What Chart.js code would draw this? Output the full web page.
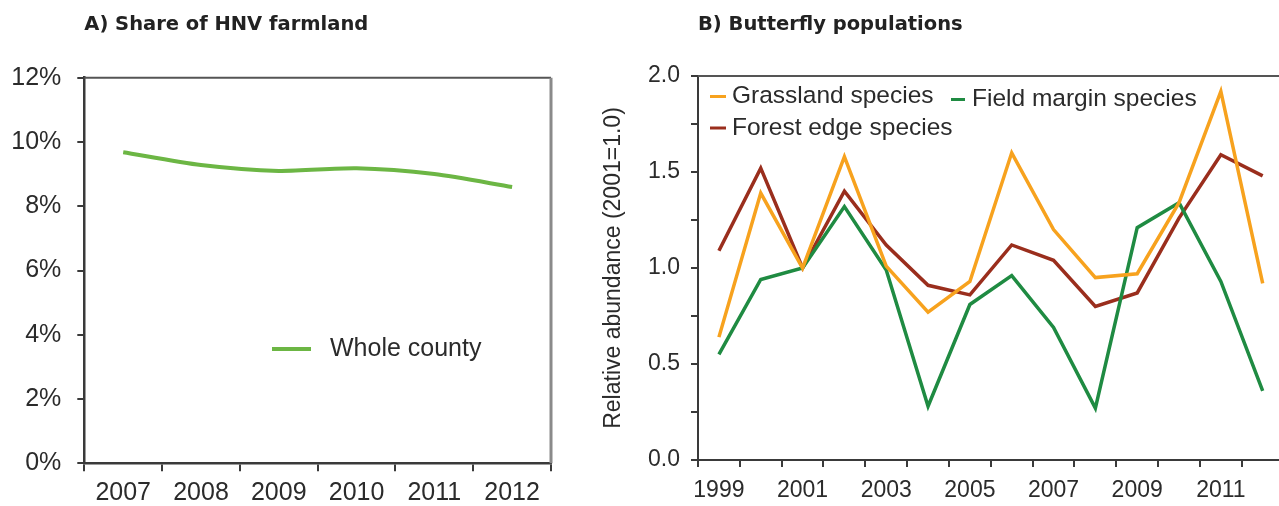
<!DOCTYPE html>
<html>
<head>
<meta charset="utf-8">
<script src="https://cdn.jsdelivr.net/npm/chart.js@4.4.1/dist/chart.umd.min.js"></script>
<style>
  html, body { margin: 0; padding: 0; background: #fff; overflow: hidden; width: 1279px; height: 506px; }
  #wrapA { position: absolute; left: 0; top: 0; width: 580px; height: 506px; }
  #wrapB { position: absolute; left: 590px; top: 0; width: 700px; height: 506px; }
  canvas { display: block; }
</style>
</head>
<body>
<div id="wrapA"><canvas id="chartA" width="580" height="506"></canvas></div>
<div id="wrapB"><canvas id="chartB" width="700" height="506"></canvas></div>
<script>
// ---------- Data: A) Share of HNV farmland ----------
const hnvYears = ['2007', '2008', '2009', '2010', '2011', '2012'];
const hnvShare = [9.68, 9.28, 9.10, 9.18, 9.00, 8.60];   // percent, whole county
const hnvTickValues = [0, 2, 4, 6, 8, 10, 12];

// ---------- Data: B) Butterfly populations ----------
const butterflyYears = ['1999', '2000', '2001', '2002', '2003', '2004', '2005',
                        '2006', '2007', '2008', '2009', '2010', '2011', '2012'];
const grasslandSpecies   = [0.64, 1.39, 1.00, 1.58, 1.01, 0.77, 0.93, 1.60, 1.20, 0.95, 0.97, 1.34, 1.92, 0.92];
const fieldMarginSpecies = [0.55, 0.94, 1.00, 1.32, 0.99, 0.28, 0.81, 0.96, 0.69, 0.27, 1.21, 1.34, 0.93, 0.36];
const forestEdgeSpecies  = [1.09, 1.52, 1.00, 1.40, 1.12, 0.91, 0.86, 1.12, 1.04, 0.80, 0.87, 1.26, 1.59, 1.48];
const butterflyTickLabels = ['1999', '2001', '2003', '2005', '2007', '2009', '2011'];
const abundanceTickLabels = [0, 0.5, 1.0, 1.5, 2.0];

// ---------- Shared styling ----------
const FONT = "'Liberation Sans', Arial, sans-serif";
const TEXT = '#2b2b2b';
const AXIS = '#3a3a3a';
Chart.defaults.font.family = FONT;
Chart.defaults.color = TEXT;

// draws the top / right frame lines of the plot box
const framePlugin = {
  id: 'frame',
  afterDraw(chart, args, opts) {
    const {ctx, chartArea: a} = chart;
    ctx.save();
    if (opts.top) {
      ctx.strokeStyle = opts.top.color; ctx.lineWidth = opts.top.width;
      ctx.beginPath(); ctx.moveTo(a.left, a.top); ctx.lineTo(a.right, a.top); ctx.stroke();
    }
    if (opts.right) {
      ctx.strokeStyle = opts.right.color; ctx.lineWidth = opts.right.width;
      ctx.beginPath(); ctx.moveTo(a.right, a.top); ctx.lineTo(a.right, a.bottom); ctx.stroke();
    }
    ctx.restore();
  }
};

// legend drawn inside the plot area from the datasets' own labels and colours
const inlineLegendPlugin = {
  id: 'inlineLegend',
  afterDatasetsDraw(chart, args, opts) {
    if (!opts.items) return;
    const ctx = chart.ctx;
    ctx.save();
    ctx.font = opts.font;
    ctx.textBaseline = 'middle';
    ctx.textAlign = 'left';
    for (const it of opts.items) {
      const ds = chart.data.datasets[it.datasetIndex];
      ctx.strokeStyle = ds.borderColor;
      ctx.lineWidth = it.lineWidth;
      ctx.lineCap = 'butt';
      ctx.beginPath();
      ctx.moveTo(it.x, it.y);
      ctx.lineTo(it.x + it.len, it.y);
      ctx.stroke();
      ctx.fillStyle = opts.color;
      ctx.fillText(ds.label, it.x + it.len + it.gap, it.ty !== undefined ? it.ty : it.y);
    }
    ctx.restore();
  }
};

// ---------- Chart A ----------
new Chart(document.getElementById('chartA'), {
  type: 'line',
  data: {
    labels: hnvYears,
    datasets: [{
      label: 'Whole county',
      data: hnvShare,
      borderColor: '#6cb644',
      borderWidth: 4,
      pointRadius: 0,
      tension: 0.25,
      fill: false
    }]
  },
  options: {
    responsive: false,
    animation: false,
    layout: { padding: { left: 0, right: 29, top: 0, bottom: 0 } },
    plugins: {
      legend: { display: false },
      tooltip: { enabled: false },
      title: {
        display: true,
        text: 'A) Share of HNV farmland',
        align: 'start',
        fullSize: false,
        color: '#222',
        font: { family: "'DejaVu Sans', Verdana, sans-serif", weight: 'bold', size: 19.5 },
        padding: { top: 13.3, bottom: 41 }
      },
      frame: { top: { color: '#555', width: 2 }, right: { color: '#8a8a8a', width: 3 } },
      inlineLegend: {
        font: '25px ' + FONT,
        color: TEXT,
        items: [{ datasetIndex: 0, x: 272, y: 349, len: 39, gap: 19, lineWidth: 4 }]
      }
    },
    scales: {
      x: {
        type: 'category',
        offset: true,
        grid: { offset: true, drawOnChartArea: false, drawTicks: true, tickLength: 8, color: AXIS, lineWidth: 2 },
        border: { display: true, color: AXIS, width: 2.5 },
        ticks: { autoSkip: false, maxRotation: 0, minRotation: 0, padding: 7, color: TEXT, font: { size: 25 } },
        afterFit: (s) => { s.height = 42.7; }
      },
      y: {
        min: hnvTickValues[0],
        max: hnvTickValues[hnvTickValues.length - 1],
        afterBuildTicks: (s) => { s.ticks = hnvTickValues.map(v => ({ value: v })); },
        grid: { drawOnChartArea: false, drawTicks: true, tickLength: 7, color: AXIS, lineWidth: 2 },
        border: { display: true, color: AXIS, width: 2.5 },
        ticks: { padding: 16, color: TEXT, font: { size: 25 }, callback: (v) => v + '%' },
        afterFit: (s) => { s.width = 84.3; }
      }
    }
  },
  plugins: [framePlugin, inlineLegendPlugin]
});

// ---------- Chart B ----------
new Chart(document.getElementById('chartB'), {
  type: 'line',
  data: {
    labels: butterflyYears,
    datasets: [
      { label: 'Grassland species', data: grasslandSpecies, borderColor: '#f7a21e', borderWidth: 3.5, pointRadius: 0, tension: 0, fill: false },
      { label: 'Field margin species', data: fieldMarginSpecies, borderColor: '#1f8b42', borderWidth: 3.5, pointRadius: 0, tension: 0, fill: false },
      { label: 'Forest edge species', data: forestEdgeSpecies, borderColor: '#9a2e1d', borderWidth: 3.5, pointRadius: 0, tension: 0, fill: false }
    ]
  },
  options: {
    responsive: false,
    animation: false,
    layout: { padding: { left: 5, right: 6.4, top: 0, bottom: 0 } },
    plugins: {
      legend: { display: false },
      tooltip: { enabled: false },
      title: {
        display: true,
        text: 'B) Butterfly populations',
        align: 'start',
        fullSize: false,
        color: '#222',
        font: { family: "'DejaVu Sans', Verdana, sans-serif", weight: 'bold', size: 19.5 },
        padding: { top: 13.5, bottom: 39.1 }
      },
      frame: { top: { color: '#555', width: 2 } },
      inlineLegend: {
        font: '24.5px ' + FONT,
        color: TEXT,
        items: [
          { datasetIndex: 0, x: 120, y: 96.5, len: 16, gap: 6, lineWidth: 3 },
          { datasetIndex: 1, x: 361, y: 99.5, len: 14, gap: 7, lineWidth: 3 },
          { datasetIndex: 2, x: 120, y: 128, len: 16, gap: 6, lineWidth: 3 }
        ]
      }
    },
    scales: {
      x: {
        type: 'category',
        offset: true,
        grid: { offset: true, drawOnChartArea: false, drawTicks: true, tickLength: 7, color: AXIS, lineWidth: 2 },
        border: { display: true, color: AXIS, width: 2 },
        ticks: {
          autoSkip: false, maxRotation: 0, minRotation: 0, padding: 10, color: TEXT, font: { size: 23 },
          callback: function (v) {
            const lab = this.getLabelForValue(v);
            return butterflyTickLabels.includes(lab) ? lab : '';
          }
        },
        afterFit: (s) => { s.height = 46; }
      },
      y: {
        min: 0,
        max: 2,
        ticks: {
          stepSize: 0.25, padding: 11, color: TEXT, font: { size: 23 },
          callback: (v) => abundanceTickLabels.some(t => Math.abs(t - v) < 1e-9) ? v.toFixed(1) : ''
        },
        grid: { drawOnChartArea: false, drawTicks: true, tickLength: 7, color: AXIS, lineWidth: 2 },
        border: { display: true, color: AXIS, width: 2 },
        title: {
          display: true,
          text: 'Relative abundance (2001=1.0)',
          color: TEXT,
          font: { size: 23 },
          padding: { top: 5, bottom: 4 }
        },
        afterFit: (s) => { s.width = 103; }
      }
    }
  },
  plugins: [framePlugin, inlineLegendPlugin]
});
</script>
</body>
</html>
